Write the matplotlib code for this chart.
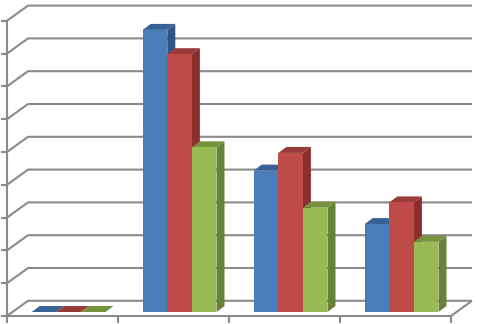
import matplotlib
matplotlib.use("Agg")
import matplotlib.pyplot as plt
from matplotlib.patches import Polygon

categories = [0, 1, 2, 3]
series_a = [0.0, 8.60, 4.31, 2.68]
series_b = [0.0, 7.86, 4.85, 3.34]
series_c = [0.0, 5.02, 3.18, 2.14]
grid_values = list(range(0, 10))

front_colors = ["#4A7EBB", "#BE4B48", "#98B954"]
side_colors = ["#2F5587", "#8A2F2D", "#6A8138"]
top_colors = ["#386296", "#983A38", "#76923C"]
line_color = "#8A8A8A"

W, H = 478, 324
PX_X, PX_Y = 111.0, 32.8   # pixels per category / per value unit
X0, Y0 = 7.0, 316.0        # front-left floor corner
dx = lambda px: px / PX_X
dy = lambda px: px / PX_Y

fig = plt.figure(figsize=(W / 100, H / 100), dpi=100, facecolor="white")
ax = fig.add_axes([0, 0, 1, 1])
ax.set_xlim(-X0 / PX_X, (W - X0) / PX_X)
ax.set_ylim(-(H - Y0) / PX_Y, Y0 / PX_Y)
ax.axis("off")

n = len(categories)
line = dict(color=line_color, lw=1.5, solid_capstyle="butt", zorder=1)
wall_dx, wall_dy = dx(21), dy(15.2)

# back wall gridlines and left wall diagonals
for v in grid_values:
    ax.plot([0, wall_dx, n + wall_dx],
            [v, v + wall_dy, v + wall_dy], **line)
    ax.plot([dx(-6), 0], [v, v], **line)

# left axis, floor front edge, floor right edge
ax.plot([0, 0], [grid_values[0], grid_values[-1]], **line)
ax.plot([0, n], [0, 0], **line)
ax.plot([n, n + wall_dx], [0, wall_dy], **line)
for c in range(n + 1):
    ax.plot([c, c], [0, dy(-6.5)], **line)

# 3D bars
bar_w = 24.6 / PX_X
start = 0.2225
base = dy(4)
ddx, ddy = dx(8), dy(6)
for s, vals in enumerate([series_a, series_b, series_c]):
    for c, v in zip(categories, vals):
        x0 = c + start + s * bar_w
        x1 = x0 + bar_w
        y0, y1 = base, base + v
        z = 3 + s + c * 3
        ax.add_patch(Polygon([(x1, y0), (x1 + ddx, y0 + ddy), (x1 + ddx, y1 + ddy), (x1, y1)],
                             closed=True, fc=side_colors[s], ec="none", zorder=z))
        ax.add_patch(Polygon([(x0, y1), (x0 + ddx, y1 + ddy), (x1 + ddx, y1 + ddy), (x1, y1)],
                             closed=True, fc=top_colors[s], ec="none", zorder=z))
        ax.add_patch(Polygon([(x0, y0), (x1, y0), (x1, y1), (x0, y1)],
                             closed=True, fc=front_colors[s], ec="none", zorder=z + 0.5))

fig.savefig("out.png", dpi=100, facecolor="white")
